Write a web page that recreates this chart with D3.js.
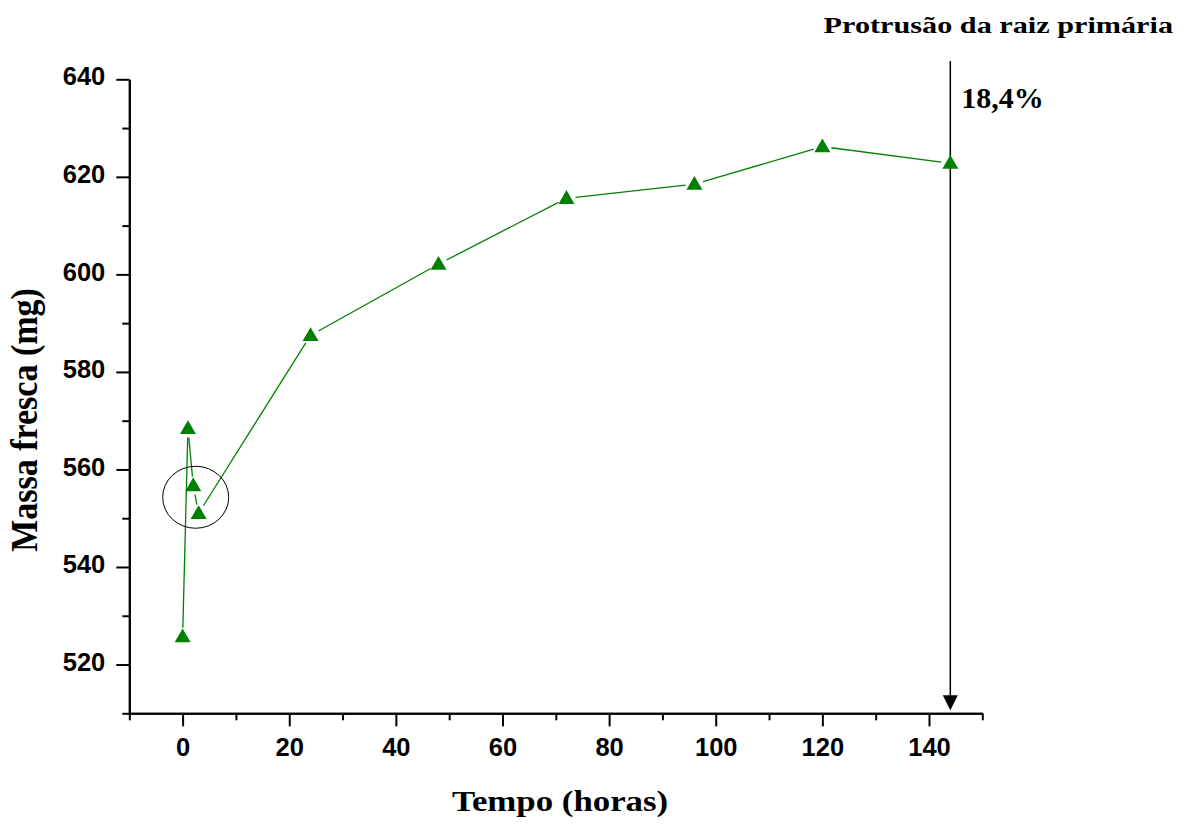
<!DOCTYPE html>
<html>
<head>
	<meta charset="utf-8">
	<title>Massa fresca</title>
	<script src="https://cdn.jsdelivr.net/npm/d3@7"></script>
	<style>
		body { margin: 0; background: #fff; }
	</style>
</head>
<body>
	<script type="text/javascript">
		// dados
		var horas = [0, 1, 2, 3, 24, 48, 72, 96, 120, 144];
		var massa = [525.7, 568.4, 556.7, 551.0, 587.5, 602.1, 615.6, 618.5, 626.2, 622.8];
		var xMajor = [0, 20, 40, 60, 80, 100, 120, 140];
		var xMinor = [-10, 10, 30, 50, 70, 90, 110, 130, 150];
		var yMajor = [520, 540, 560, 580, 600, 620, 640];
		var yMinor = [510, 530, 550, 570, 590, 610, 630];
		var protrusaoHora = 144;
		var protrusaoTexto = "18,4%";
		var circulo = [2.45, 554.3]; // ponto destacado

		var W = 1188, H = 825;
		var svg = d3.select("body").append("svg")
			.attr("width", W).attr("height", H);

		var x = d3.scaleLinear().domain([-10, 150]).range([129.3, 982.3]);
		var y = d3.scaleLinear().domain([510, 640]).range([713.3, 79.3]);

		var dados = horas.map(function(h, i){ return [h, massa[i]]; });
		var sans = "Liberation Sans, Arial, sans-serif";
		var serif = "Liberation Serif, Times New Roman, serif";

		// eixos
		function estilo(g){
			g.select(".domain").attr("stroke", "#000").attr("stroke-width", 2);
			g.selectAll(".tick line").attr("stroke", "#000").attr("stroke-width", 2);
		}
		svg.append("g").attr("transform", "translate(0," + y(510) + ")")
			.call(d3.axisBottom(x).tickValues(xMinor).tickSize(7).tickSizeOuter(0).tickFormat(""))
			.call(estilo);
		var gx = svg.append("g").attr("transform", "translate(0," + y(510) + ")")
			.call(d3.axisBottom(x).tickValues(xMajor).tickSize(13).tickSizeOuter(0).tickPadding(12))
			.call(estilo);
		gx.selectAll("text").attr("font-family", sans)
			.attr("font-weight", "bold").attr("font-size", 25.5).attr("fill", "#000");

		svg.append("g").attr("transform", "translate(" + x(-10) + ",0)")
			.call(d3.axisLeft(y).tickValues(yMinor).tickSize(7).tickSizeOuter(0).tickFormat(""))
			.call(estilo);
		var gy = svg.append("g").attr("transform", "translate(" + x(-10) + ",0)")
			.call(d3.axisLeft(y).tickValues(yMajor).tickSize(13).tickSizeOuter(0).tickPadding(11))
			.call(estilo);
		gy.selectAll("text").attr("font-family", sans).attr("dy", "0.22em")
			.attr("font-weight", "bold").attr("font-size", 25.5).attr("fill", "#000");

		// linha com espaço em volta dos símbolos (estilo Origin)
		var gap = 9;
		var segs = [];
		for (var i = 0; i < dados.length - 1; i++) {
			var x1 = x(dados[i][0]), y1 = y(dados[i][1]);
			var x2 = x(dados[i+1][0]), y2 = y(dados[i+1][1]);
			var L = Math.hypot(x2 - x1, y2 - y1);
			if (L > 2 * gap) {
				var ux = (x2 - x1) / L, uy = (y2 - y1) / L;
				segs.push([x1 + ux*gap, y1 + uy*gap, x2 - ux*gap, y2 - uy*gap]);
			}
		}
		svg.selectAll("line.seg").data(segs).enter().append("line")
			.attr("class", "seg")
			.attr("x1", function(d){return d[0];}).attr("y1", function(d){return d[1];})
			.attr("x2", function(d){return d[2];}).attr("y2", function(d){return d[3];})
			.attr("stroke", "#008000").attr("stroke-width", 1.3);

		// seta da protrusão
		var xa = x(protrusaoHora);
		svg.append("line").attr("x1", xa).attr("x2", xa)
			.attr("y1", 61).attr("y2", y(510) - 14)
			.attr("stroke", "#000").attr("stroke-width", 1.5);
		svg.append("path")
			.attr("d", "M" + (xa - 7.5) + "," + (y(510) - 18) + "L" + (xa + 7.5) + "," + (y(510) - 18) + "L" + xa + "," + (y(510) - 3) + "Z")
			.attr("fill", "#000");

		// triângulos
		var tri = d3.symbol().type(d3.symbolTriangle).size(110);
		svg.selectAll("path.pt").data(dados).enter().append("path")
			.attr("class", "pt")
			.attr("d", tri)
			.attr("transform", function(d){ return "translate(" + x(d[0]) + "," + (y(d[1]) + 1) + ")"; })
			.attr("fill", "#008000");

		// círculo de destaque
		svg.append("ellipse")
			.attr("cx", x(circulo[0])).attr("cy", y(circulo[1]))
			.attr("rx", 33).attr("ry", 31)
			.attr("fill", "none").attr("stroke", "#000").attr("stroke-width", 1);

		// textos (a figura original está esticada na horizontal)
		svg.append("text")
			.attr("transform", "translate(1173,33.3) scale(1.26,1)")
			.attr("text-anchor", "end").attr("font-family", serif)
			.attr("font-weight", "bold").attr("font-size", 24)
			.text("Protrusão da raiz primária");
		svg.append("text").attr("x", xa + 11).attr("y", 108.3)
			.attr("font-family", serif).attr("font-weight", "bold").attr("font-size", 30)
			.text(protrusaoTexto);
		svg.append("text")
			.attr("transform", "translate(560,811) scale(1.18,1)")
			.attr("text-anchor", "middle").attr("font-family", serif)
			.attr("font-weight", "bold").attr("font-size", 29.5)
			.text("Tempo (horas)");
		svg.append("text")
			.attr("transform", "translate(37,420) scale(1.1,1) rotate(-90)")
			.attr("text-anchor", "middle").attr("font-family", serif)
			.attr("font-weight", "bold").attr("font-size", 34)
			.text("Massa fresca (mg)");
	</script>
</body>
</html>
